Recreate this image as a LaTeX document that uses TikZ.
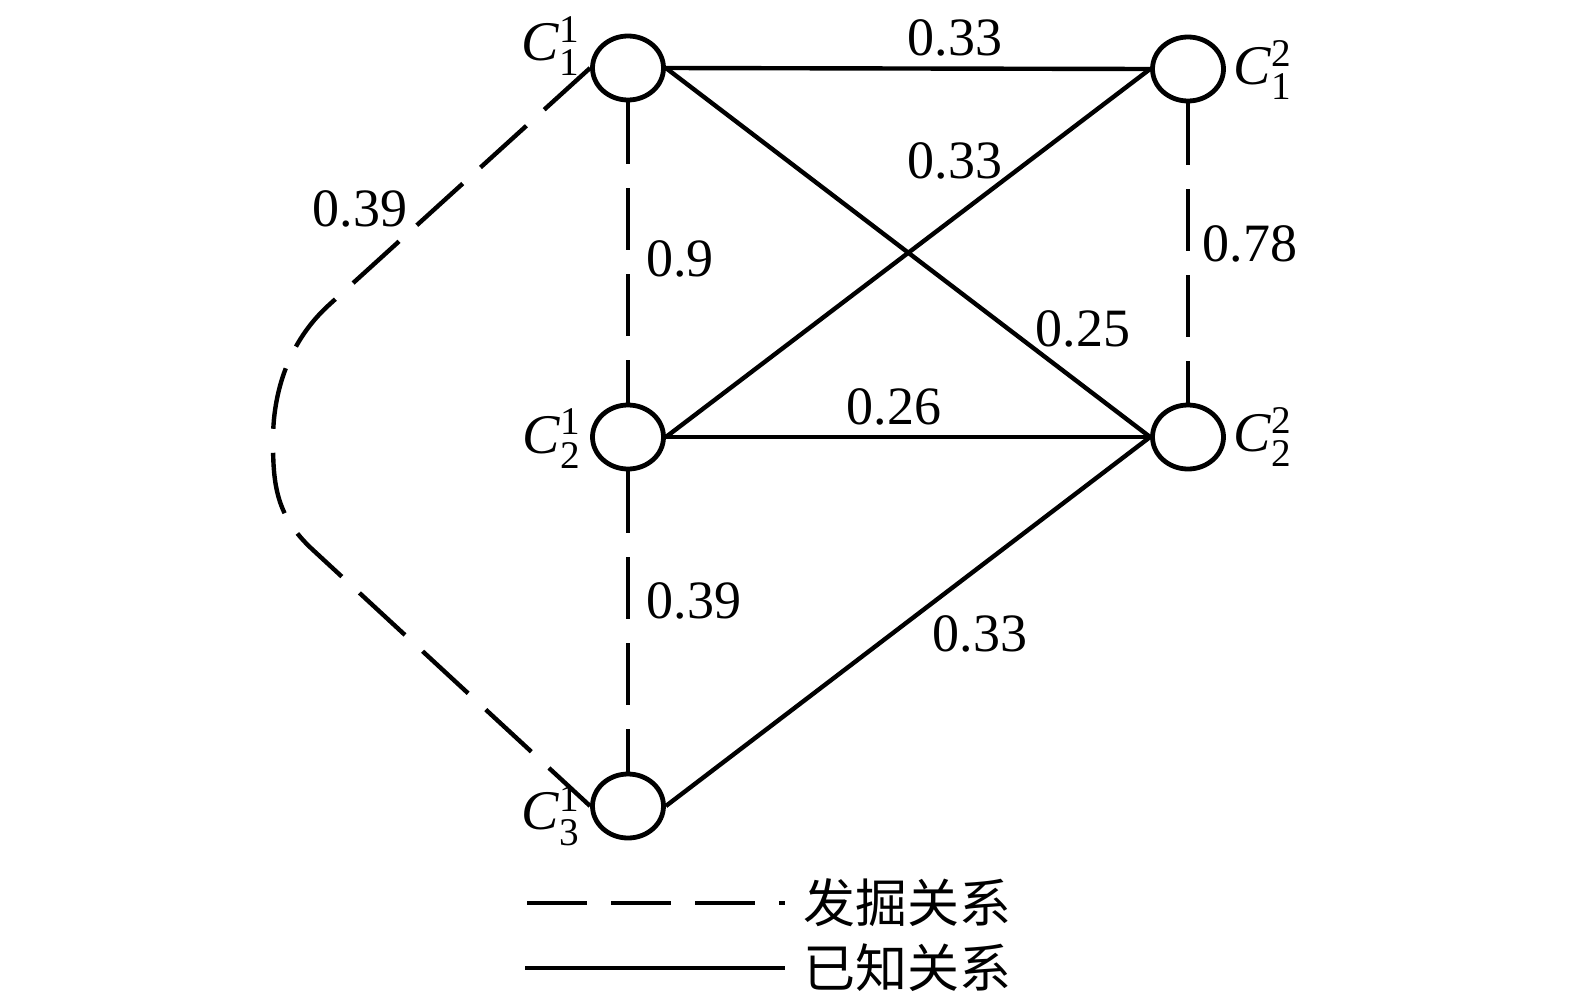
\documentclass[tikz,border=0pt]{standalone}
\usepackage{amsmath}
\usepackage{fontspec}
\setmainfont{Liberation Serif}
\newfontfamily\cjk{Noto Sans CJK SC}
\usetikzlibrary{shapes.geometric}
\newcommand{\clab}[2]{\textit{C}$^{\text{#1}}_{\text{#2}}$}
\begin{document}
\begin{tikzpicture}[x=0.5pt,y=-0.5pt,
  vert/.style={draw, ellipse, line width=2.4pt, inner sep=0pt, minimum width=35.5pt, minimum height=32pt},
  known/.style={line width=2.2pt},
  found/.style={line width=2.2pt, dash pattern=on 31pt off 12pt},
  wt/.style={font=\fontsize{27}{30}\selectfont, inner sep=0pt},
  nm/.style={font=\fontsize{28}{30}\selectfont, inner sep=0pt},
  leg/.style={font=\cjk\fontsize{26}{28}\selectfont, inner sep=0pt, anchor=west}]
\useasboundingbox (0,0) rectangle (1575,1007);
% vertices
\node[vert] (c11) at (628,68) {};
\node[vert] (c12) at (1188,69) {};
\node[vert] (c21) at (628,437) {};
\node[vert] (c22) at (1188,437) {};
\node[vert] (c31) at (628,806) {};
% vertex names
\node[nm] (n11) at (551,46) {\clab{1}{1}};
\node[nm] (n12) at (1263,70) {\clab{2}{1}};
\node[nm] (n21) at (552,439) {\clab{1}{2}};
\node[nm] (n22) at (1263,437) {\clab{2}{2}};
\node[nm] (n31) at (551,816) {\clab{1}{3}};
% known relations
\draw[known] (c11.east) -- (c12.west);
\draw[known] (c11.east) -- (c22.west);
\draw[known] (c21.east) -- (c12.west);
\draw[known] (c21.east) -- (c22.west);
\draw[known] (c31.east) -- (c22.west);
% found relations
\draw[found] (c11.south) -- (c21.north);
\draw[found] (c21.south) -- (c31.north);
\draw[found] (c12.south) -- (c22.north);
\draw[found] (c11.west) -- (330,304) .. controls (293,337) and (273,385) .. (273,440)
  .. controls (273,485) and (276,516) .. (313,550) -- (c31.west);
% weights
\node[wt] (w1) at (955,38) {0.33};
\node[wt] (w2) at (955,161) {0.33};
\node[wt] (w3) at (360,209) {0.39};
\node[wt] (w4) at (680,259) {0.9};
\node[wt] (w5) at (1250,244) {0.78};
\node[wt] (w6) at (1083,329) {0.25};
\node[wt] (w7) at (894,407) {0.26};
\node[wt] (w8) at (694,601) {0.39};
\node[wt] (w9) at (980,634) {0.33};
% legend
\node[leg] (t1) at (803,903) {发掘关系};
\node[leg] (t2) at (803,968) {已知关系};
\coordinate (l1) at (527,903);
\coordinate (l2) at (525,968);
\draw[found, dash pattern=on 30pt off 12pt] (l1) -- (t1.west) [shorten >=9pt];
\draw[known, shorten >=9pt] (l2) -- (t2.west);
\end{tikzpicture}
\end{document}
